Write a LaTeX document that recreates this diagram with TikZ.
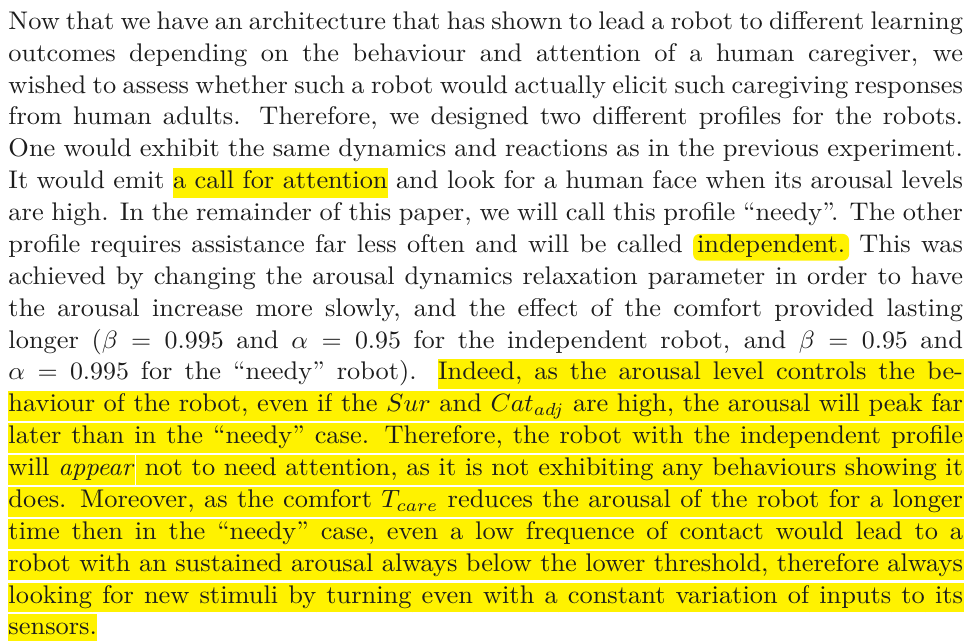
\documentclass[tikz,border=0pt]{standalone}
\usepackage{xcolor}
\usepackage{graphicx}
\usepackage{tikz}
\definecolor{hlyellow}{RGB}{255,242,0}
\definecolor{txtdark}{RGB}{28,28,28}
\def\xsc{1.035}
\newlength\linew \setlength\linew{368.9pt}
\newlength\hlht \setlength\hlht{8.2pt}
\newlength\hldp \setlength\hldp{3.7pt}
\def\pitch{12.75pt}
\makeatletter
% one highlighted word, the text is set twice (measure, then print)
\newcommand\hlword[1]{\setbox\z@\hbox{#1}\kern-.2pt{\color{hlyellow}\vrule width\dimexpr\wd\z@+.4pt\relax height\hlht depth\hldp}\kern-\dimexpr\wd\z@+.2pt\relax #1}
\newcommand\hlglue[3]{{\color{hlyellow}\leaders\vrule height\hlht depth\hldp\hskip#1 plus#2 minus#3\relax}}
\newcommand\hlsp{\ifnum\spacefactor>1999
    \hlglue{\dimexpr\fontdimen2\font+\fontdimen7\font\relax}{3\fontdimen3\font}{.333\fontdimen4\font}%
  \else\hlglue{\fontdimen2\font}{\fontdimen3\font}{\fontdimen4\font}\fi}
\def\hlwords#1{\hl@loop#1 \@nil}
\def\hl@loop#1 #2\@nil{\hlword{#1}\if\relax\detokenize{#2}\relax\else\hlsp\hl@loop#2\@nil\fi}
\makeatother
% one justified line of the paragraph
\newcommand\tline[1]{\scalebox{\xsc}[1]{\hbox to\linew{#1}}}
\begin{document}
\begin{tikzpicture}[
  txtline/.style={anchor=base west, inner sep=0pt, outer sep=0pt,
    font=\fontsize{10.2}{12.75}\selectfont, text=txtdark},
  indepbox/.style={fill=hlyellow, rounded corners=2.5pt, inner xsep=1.5pt,
    inner ysep=0pt, text height=7.4pt, text depth=3.3pt, anchor=base}
]
  \fill[white] (0,0) rectangle (388pt,-256.4pt);
  \useasboundingbox (0,0) rectangle (388pt,-256.4pt);
  % plain lines
  \node[txtline] (l1) at (3.4pt,-11.72pt) {\tline{Now that we have an architecture that has shown to lead a robot to different learning}};
  \node[txtline] (l2) at ([yshift=-\pitch]l1.base west) {\tline{outcomes depending on the behaviour and attention of a human caregiver, we}};
  \node[txtline] (l3) at ([yshift=-\pitch]l2.base west) {\tline{wished to assess whether such a robot would actually elicit such caregiving responses}};
  \node[txtline] (l4) at ([yshift=-\pitch]l3.base west) {\tline{from human adults. Therefore, we designed two different profiles for the robots.}};
  \node[txtline] (l5) at ([yshift=-\pitch]l4.base west) {\tline{One would exhibit the same dynamics and reactions as in the previous experiment.}};
  \node[txtline] (l6) at ([yshift=-\pitch]l5.base west) {\tline{It would emit \hlwords{a call for attention} and look for a human face when its arousal levels}};
  \node[txtline] (l7) at ([yshift=-\pitch]l6.base west) {\tline{are high. In the remainder of this paper, we will call this profile “needy”. The other}};
  \node[txtline] (l8) at ([yshift=-\pitch]l7.base west) {\tline{profile requires assistance far less often and will be called \tikz[baseline=(indep.base)]\node[indepbox] (indep) {independent.}; This was}};
  \node[txtline] (l9) at ([yshift=-\pitch]l8.base west) {\tline{achieved by changing the arousal dynamics relaxation parameter in order to have}};
  \node[txtline] (l10) at ([yshift=-\pitch]l9.base west) {\tline{the arousal increase more slowly, and the effect of the comfort provided lasting}};
  \node[txtline] (l11) at ([yshift=-\pitch]l10.base west) {\tline{longer ($\beta = 0.995$ and $\alpha = 0.95$ for the independent robot, and $\beta = 0.95$ and}};
  % highlighted part
  \node[txtline] (l12) at ([yshift=-\pitch]l11.base west) {\tline{$\alpha = 0.995$ for the “needy” robot). \hlwords{Indeed, as the arousal level controls the be-}}};
  \node[txtline] (l13) at ([yshift=-\pitch]l12.base west) {\tline{\hlwords{haviour of the robot, even if the $Sur$ and $Cat_{adj}$ are high, the arousal will peak far}}};
  \node[txtline] (l14) at ([yshift=-\pitch]l13.base west) {\tline{\hlwords{later than in the “needy” case. Therefore, the robot with the independent profile}}};
  \node[txtline] (l15) at ([yshift=-\pitch]l14.base west) {\tline{\hlwords{will \textit{appear}}\kern.6pt\hlsp\hlwords{not to need attention, as it is not exhibiting any behaviours showing it}}};
  \node[txtline] (l16) at ([yshift=-\pitch]l15.base west) {\tline{\hlwords{does. Moreover, as the comfort $T_{care}$ reduces the arousal of the robot for a longer}}};
  \node[txtline] (l17) at ([yshift=-\pitch]l16.base west) {\tline{\hlwords{time then in the “needy” case, even a low frequence of contact would lead to a}}};
  \node[txtline] (l18) at ([yshift=-\pitch]l17.base west) {\tline{\hlwords{robot with an sustained arousal always below the lower threshold, therefore always}}};
  \node[txtline] (l19) at ([yshift=-\pitch]l18.base west) {\tline{\hlwords{looking for new stimuli by turning even with a constant variation of inputs to its}}};
  \node[txtline] (l20) at ([yshift=-\pitch]l19.base west) {\scalebox{\xsc}[1]{\hlwords{sensors.}}};
\end{tikzpicture}
\end{document}
